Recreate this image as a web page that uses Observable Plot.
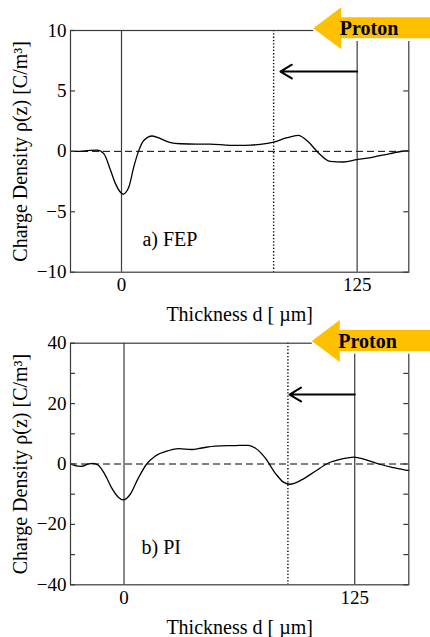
<!DOCTYPE html>
<html><head><meta charset="utf-8">
<script src="https://cdn.jsdelivr.net/npm/d3@7"></script>
<script src="https://cdn.jsdelivr.net/npm/@observablehq/plot@0.6"></script>
<style>
body{margin:0;background:#fff;}
#wrap{position:relative;width:430px;height:637px;overflow:hidden;}
#wrap svg{position:absolute;left:0;font-family:"Liberation Serif",serif !important;}
#wrap svg text{font-family:"Liberation Serif",serif !important;}
</style></head><body><div id="wrap"></div>
<script>
// ---- data ----
const fepX = [-27, -20, -16.4, -12.9, -9.4, -5.8, -3.2, -1, 0.9, 2.3, 3.9, 6.5, 9.2, 11.8, 16.3, 20.7, 26, 31.3, 40, 47, 57.7, 63, 68.3, 73.6, 80.7, 87.8, 93.6, 99.2, 104, 110.7, 117.7, 124.8, 133.6, 142.5, 150.4, 152.4];
const fepY = [0, 0.02, 0.08, 0.1, -0.19, -1.57, -2.67, -3.3, -3.55, -3.4, -2.95, -1.3, 0.08, 0.9, 1.27, 1.05, 0.72, 0.63, 0.6, 0.6, 0.5, 0.5, 0.52, 0.58, 0.77, 1.13, 1.32, 0.77, -0.05, -0.83, -0.88, -0.69, -0.47, -0.19, 0.03, 0.03];
const piX = [-29, -26.6, -23, -19.4, -16.7, -13.9, -10.3, -6.7, -3.1, -0.4, 3.3, 7.8, 12.3, 16.8, 24, 29.5, 36.7, 42.1, 49.4, 60.2, 67.4, 71.1, 76.5, 81.9, 86.4, 90, 96.4, 103.6, 110.8, 118, 124.4, 130.8, 138, 145.2, 152.5, 154.3];
const piY = [0, -0.5, -0.77, 0, 0.23, -0.43, -3.5, -7.9, -11, -11.9, -10.1, -4.6, 0, 2.55, 4.4, 5.1, 4.8, 5.3, 5.95, 6.1, 6.2, 5.3, 2, -3, -6, -6.7, -5.2, -2.4, 0.33, 1.66, 2.3, 1.45, 0, -1.1, -2, -2.1];

const xTickLabels = [0, 125];
const surfaceLines = [0, 125];
const fepYLabels = [-10, -5, 0, 5, 10];
const fepYTicks = [-10, -5, 0, 5, 10];
const piYLabels = [-40, -20, 0, 20, 40];
const piYTicks = [-40, -30, -20, -10, 0, 10, 20, 30, 40];

const fepDepth = [80.7];           // dotted line (penetration depth)
const piDepth = [88.8];
const fepArrow = [125, 84.3, 6.6]; // x start, x end, level
const piArrow = [125, 89.7, 23];
const fepTag = ["a) FEP", 11.1, -7.85];
const piTag = ["b) PI", 9.5, -29.7];
const protonTip = 102;
const protonText = "Proton";
const yTitle = "Charge Density \u03c1(z) [C/m\u00b3]";
const xTitle = "Thickness d [ \u00b5m]";

const FONT = "Liberation Serif";
const LINE = "#3a3a3a";

function protonMark(index, scales, values, dims) {
  const ns = "http://www.w3.org/2000/svg";
  const g = document.createElementNS(ns, "g");
  const tx = scales.x(protonTip);
  const t = dims.marginTop;
  const W = dims.width;
  const rect = document.createElementNS(ns, "rect");
  rect.setAttribute("x", tx); rect.setAttribute("y", t - 26);
  rect.setAttribute("width", W - tx); rect.setAttribute("height", 37);
  rect.setAttribute("fill", "white");
  g.appendChild(rect);
  const poly = document.createElementNS(ns, "polygon");
  const hb = tx + 28;
  const pts = [[tx, t - 1.7], [hb, t - 22.7], [hb, t - 12.7], [W, t - 12.7], [W, t + 8.3], [hb, t + 8.3], [hb, t + 19.3]];
  poly.setAttribute("points", pts.map(p => p.join(",")).join(" "));
  poly.setAttribute("fill", "#FFC000");
  g.appendChild(poly);
  const txt = document.createElementNS(ns, "text");
  txt.setAttribute("x", tx + 26.5); txt.setAttribute("y", t + 4.8);
  txt.setAttribute("text-anchor", "start");
  txt.setAttribute("font-weight", "bold"); txt.setAttribute("font-size", 20);
  txt.setAttribute("fill", "black");
  txt.textContent = protonText;
  g.appendChild(txt);
  return g;
}

function panel({xs, ys, xDomain, yDomain, yLabels, yTicks, height, marginTop, marginBottom, depth, arrow, tag, xTickPad}) {
  const marginLeft = 70, marginRight = 21.7, width = 430;
  const frameW = width - marginLeft - marginRight;
  const data = xs.map((x, i) => ({x, y: ys[i]}));
  return Plot.plot({
    width, height, marginTop, marginBottom, marginLeft, marginRight,
    x: {domain: xDomain},
    y: {domain: yDomain},
    style: {fontFamily: FONT, fontSize: "19px", background: "transparent", overflow: "visible", color: "black"},
    marks: [
      Plot.ruleY([0], {stroke: "black", strokeWidth: 1, strokeDasharray: "7,4"}),
      Plot.ruleX(surfaceLines, {stroke: LINE, strokeWidth: 1.2}),
      Plot.ruleX(depth, {stroke: "black", strokeWidth: 1.4, strokeDasharray: "1.3,2"}),
      Plot.line(data, {x: "x", y: "y", stroke: "black", strokeWidth: 1.3, curve: "monotone-x"}),
      Plot.tickY(yTicks, {stroke: LINE, strokeWidth: 1.2, insetRight: frameW - 5}),
      Plot.tickY(yTicks, {stroke: LINE, strokeWidth: 1.2, insetLeft: frameW - 5}),
      Plot.frame({stroke: LINE, strokeWidth: 1.2}),
      Plot.axisY(yLabels, {anchor: "left", tickSize: 0, tickPadding: 4, label: null, fontSize: 19}),
      Plot.axisX(xTickLabels, {anchor: "bottom", tickSize: 0, tickPadding: xTickPad, label: null, fontSize: 19}),
      Plot.text([yTitle], {text: d => d, frameAnchor: "left", textAnchor: "middle", rotate: -90, dx: -50, fontSize: 20}),
      Plot.text([xTitle], {text: d => d, frameAnchor: "bottom", textAnchor: "middle", dy: 49, lineAnchor: "bottom", fontSize: 20}),
      Plot.text([{t: tag[0], x: tag[1], y: tag[2]}], {x: "x", y: "y", text: "t", textAnchor: "start", lineAnchor: "bottom", fontSize: 20}),
      Plot.arrow([{x1: arrow[0], x2: arrow[1], y: arrow[2]}], {x1: "x1", x2: "x2", y1: "y", y2: "y", stroke: "black", strokeWidth: 2, headLength: 10, headAngle: 62}),
      protonMark
    ]
  });
}

const wrap = document.getElementById("wrap");
const p1 = panel({xs: fepX, ys: fepY, xDomain: [-27.05, 152.4], yDomain: [-10, 10], yLabels: fepYLabels, yTicks: fepYTicks,
  height: 326, marginTop: 30, marginBottom: 54.3, depth: fepDepth, arrow: fepArrow, tag: fepTag, xTickPad: 5});
p1.style.top = "0px";
wrap.appendChild(p1);
const p2 = panel({xs: piX, ys: piY, xDomain: [-29, 154.3], yDomain: [-40, 40], yLabels: piYLabels, yTicks: piYTicks,
  height: 311, marginTop: 16.7, marginBottom: 52.7, depth: piDepth, arrow: piArrow, tag: piTag, xTickPad: 6});
p2.style.top = "326px";
wrap.appendChild(p2);
</script></body></html>
